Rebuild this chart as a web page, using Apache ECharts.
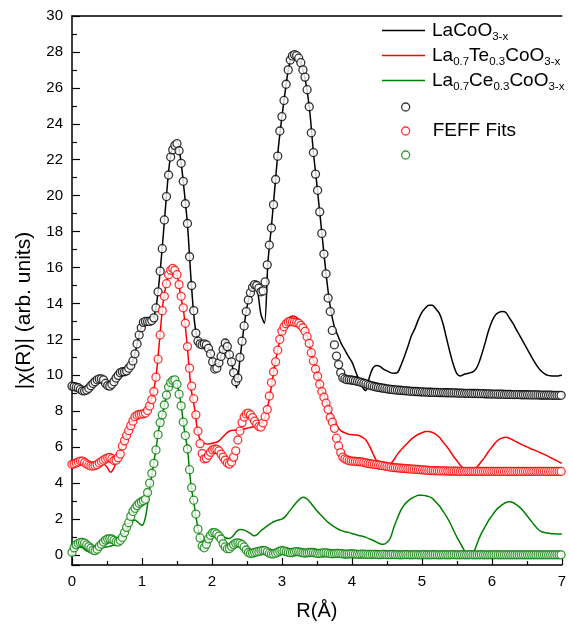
<!DOCTYPE html>
<html>
<head>
<meta charset="utf-8">
<script src="https://cdn.jsdelivr.net/npm/echarts@6/dist/echarts.min.js"></script>
<style>html,body{margin:0;padding:0;background:#fff}#c{width:569px;height:626px}</style>
</head>
<body>
<div id="c"></div>
<script>
// ---- series names / labels ----
const seriesNames = ['LaCoO3-x', 'La0.7Te0.3CoO3-x', 'La0.7Ce0.3CoO3-x'];
const fitNames = ['fitLaCoO', 'FEFF Fits', 'fitLaCeCoO'];
const xTicks = [0, 1, 2, 3, 4, 5, 6, 7];
const yTicks = [0, 2, 4, 6, 8, 10, 12, 14, 16, 18, 20, 22, 24, 26, 28, 30];

// ---- R grids ----
const FIT_STEP = 0.03;   // R step of the FEFF fit points (Å)
const LINE_STEP = 0.05;  // R step of the measured curves (Å)

// ---- FEFF fit values (circles), R = 0, 0.03, 0.06, ... ----
const blackFit = [
 9.40,9.37,9.34,9.31,9.22,9.14,9.14,9.19,9.28,9.42,
 9.55,9.65,9.75,9.80,9.80,9.75,9.55,9.43,9.40,9.50,
 9.65,9.85,10.00,10.15,10.20,10.20,10.25,10.40,10.55,10.80,
 11.20,11.75,12.25,12.65,12.95,13.00,13.00,13.00,13.05,13.20,
 13.75,14.65,15.80,17.05,18.65,19.95,21.15,22.15,22.55,22.80,
 22.90,22.50,21.80,20.80,19.55,18.45,16.60,15.00,13.60,12.35,
 11.90,11.75,11.70,11.75,11.70,11.50,11.20,10.75,10.35,10.40,
 10.70,11.05,11.45,11.80,11.60,11.15,10.75,10.15,9.65,9.85,
 11.00,11.90,12.75,13.55,14.20,14.60,14.90,15.05,15.00,14.85,
 14.65,14.70,15.20,16.15,17.25,18.20,19.50,20.90,22.20,23.60,
 24.40,25.30,26.20,27.00,27.55,27.78,27.85,27.80,27.65,27.40,
 27.00,26.60,25.90,24.95,23.50,22.40,21.20,20.30,19.10,17.90,
 16.75,15.65,14.30,13.55,12.50,11.70,11.07,10.60,10.15,9.87,
 9.80,9.76,9.75,9.74,9.72,9.70,9.67,9.64,9.60,9.56,
 9.52,9.48,9.44,9.41,9.38,9.35,9.33,9.31,9.29,9.27,
 9.25,9.23,9.22,9.20,9.19,9.18,9.17,9.16,9.15,9.14,
 9.13,9.12,9.11,9.10,9.10,9.09,9.08,9.08,9.07,9.07,
 9.06,9.06,9.05,9.05,9.05,9.04,9.04,9.04,9.03,9.03,
 9.03,9.02,9.02,9.02,9.01,9.01,9.01,9.00,9.00,9.00,
 9.00,8.99,8.99,8.99,8.98,8.98,8.98,8.97,8.97,8.97,
 8.96,8.96,8.96,8.95,8.95,8.95,8.94,8.94,8.94,8.94,
 8.93,8.93,8.93,8.93,8.92,8.92,8.92,8.92,8.91,8.91,
 8.91,8.91,8.91,8.90,8.90,8.90,8.90,8.90,8.90,8.89,
 8.89,8.89,8.89,8.89
];
const redFit = [
 5.05,5.08,5.12,5.18,5.23,5.22,5.15,5.07,5.00,4.96,
 4.95,4.98,5.03,5.12,5.20,5.28,5.35,5.40,5.43,5.36,
 5.26,5.28,5.42,5.62,6.07,6.36,6.65,6.92,7.20,7.45,
 7.70,7.78,7.82,7.84,7.86,7.90,8.05,8.30,8.65,9.10,
 9.90,10.90,12.25,13.60,14.40,15.10,15.60,15.85,15.95,15.85,
 15.60,15.05,14.40,13.76,12.90,11.60,10.40,9.40,8.70,7.80,
 6.90,6.20,5.65,5.35,5.38,5.55,5.72,5.85,5.90,5.88,
 5.80,5.62,5.45,5.28,5.12,5.06,5.18,5.45,5.80,6.40,
 6.90,7.37,7.68,7.85,7.90,7.80,7.65,7.45,7.28,7.15,
 7.12,7.35,7.70,8.10,8.85,9.60,10.20,10.75,11.40,12.00,
 12.46,12.70,12.87,12.97,13.00,12.98,12.96,12.93,12.90,12.78,
 12.65,12.45,12.15,11.78,11.26,10.80,10.35,9.95,9.50,9.10,
 8.78,8.45,8.10,7.65,7.40,7.05,6.50,6.07,5.70,5.45,
 5.35,5.30,5.25,5.23,5.22,5.21,5.20,5.19,5.18,5.16,
 5.13,5.10,5.08,5.06,5.05,5.03,5.01,4.99,4.97,4.95,
 4.93,4.91,4.89,4.87,4.86,4.85,4.84,4.83,4.82,4.81,
 4.80,4.79,4.78,4.78,4.77,4.76,4.75,4.74,4.73,4.72,
 4.71,4.70,4.70,4.69,4.69,4.68,4.68,4.68,4.68,4.67,
 4.67,4.67,4.67,4.67,4.67,4.66,4.66,4.66,4.66,4.66,
 4.66,4.66,4.66,4.66,4.65,4.65,4.65,4.65,4.65,4.65,
 4.65,4.65,4.65,4.65,4.65,4.65,4.65,4.65,4.65,4.65,
 4.65,4.65,4.65,4.65,4.65,4.65,4.65,4.65,4.65,4.65,
 4.65,4.65,4.65,4.65,4.65,4.65,4.65,4.65,4.65,4.65,
 4.65,4.65,4.65,4.65
];
const greenFit = [
 0.15,0.40,0.58,0.65,0.70,0.70,0.66,0.56,0.47,0.38,
 0.28,0.24,0.32,0.48,0.60,0.72,0.83,0.89,0.90,0.89,
 0.82,0.74,0.72,0.82,0.98,1.25,1.54,1.80,2.15,2.42,
 2.60,2.75,2.88,2.95,3.02,3.10,3.48,4.00,4.55,5.10,
 5.85,6.70,7.37,7.80,8.35,8.90,9.35,9.60,9.72,9.75,
 9.50,8.95,8.30,7.40,6.65,5.90,4.75,3.75,3.05,2.28,
 1.44,0.95,0.50,0.40,0.60,0.90,1.10,1.24,1.25,1.18,
 1.05,0.89,0.62,0.45,0.35,0.36,0.48,0.58,0.66,0.68,
 0.65,0.58,0.45,0.28,0.14,0.08,0.10,0.14,0.17,0.20,
 0.23,0.25,0.24,0.18,0.10,0.06,0.06,0.10,0.16,0.21,
 0.24,0.23,0.19,0.15,0.13,0.14,0.17,0.19,0.18,0.15,
 0.12,0.11,0.12,0.14,0.15,0.14,0.11,0.09,0.09,0.10,
 0.12,0.12,0.10,0.08,0.07,0.08,0.09,0.09,0.08,0.06,
 0.05,0.05,0.06,0.07,0.06,0.05,0.04,0.04,0.05,0.05,
 0.04,0.03,0.03,0.04,0.04,0.03,0.02,0.02,0.03,0.03,
 0.02,0.02,0.02,0.03,0.02,0.02,0.01,0.01,0.02,0.02,
 0.02,0.01,0.01,0.02,0.02,0.01,0.01,0.02,0.02,0.01,
 0.01,0.01,0.02,0.02,0.01,0.01,0.01,0.02,0.01,0.01,
 0.01,0.02,0.02,0.01,0.01,0.01,0.02,0.01,0.01,0.01,
 0.02,0.01,0.01,0.01,0.01,0.02,0.01,0.01,0.01,0.01,
 0.01,0.01,0.02,0.01,0.01,0.01,0.01,0.01,0.01,0.01,
 0.01,0.01,0.01,0.01,0.01,0.01,0.01,0.01,0.01,0.01,
 0.01,0.01,0.01,0.01,0.01,0.01,0.01,0.01,0.01,0.01,
 0.01,0.01,0.01,0.01
];

// ---- measured curves (lines), R = 0, 0.05, 0.10, ... 7.00 ----
const blackLine = [
 9.45,9.38,9.30,9.15,9.18,9.35,9.55,9.75,9.85,9.80,
 9.55,9.40,9.60,9.95,10.15,10.20,10.35,10.60,11.20,12.10,
 12.80,13.00,13.00,13.10,13.75,15.40,17.60,20.00,22.00,22.80,
 22.95,22.10,20.40,18.40,15.40,13.00,11.90,11.70,11.75,11.50,
 10.90,10.25,10.70,11.35,12.00,11.20,10.35,9.30,10.90,12.46,
 13.80,14.60,15.05,14.70,13.40,12.90,16.30,18.30,20.50,22.70,
 24.40,25.90,27.20,27.85,28.00,27.60,27.00,26.10,24.60,22.40,
 20.60,18.70,16.80,15.00,13.60,12.70,12.20,11.75,11.40,11.05,
 10.75,10.25,9.75,9.35,9.15,9.90,10.40,10.55,10.50,10.35,
 10.25,10.15,10.12,10.15,10.55,11.05,11.60,12.20,12.60,13.10,
 13.50,13.75,13.90,13.90,13.70,13.45,12.90,12.10,11.30,10.60,
 10.10,9.96,10.05,10.10,10.15,10.25,10.55,11.10,11.75,12.45,
 13.00,13.35,13.50,13.55,13.50,13.20,12.90,12.55,12.20,11.85,
 11.50,11.15,10.80,10.50,10.25,10.10,10.00,9.97,9.96,9.97,
 10.00
];
const redLine = [
 4.95,5.00,5.05,5.05,5.00,4.95,4.95,5.00,5.05,5.05,
 4.90,4.60,4.85,5.35,5.90,6.45,7.00,7.40,7.70,7.80,
 7.85,7.90,8.25,8.90,9.90,11.90,14.00,15.15,15.80,16.00,
 15.65,14.50,13.40,11.50,9.30,8.20,6.80,6.30,6.20,6.18,
 6.22,6.26,6.35,6.55,6.75,6.90,6.95,6.95,6.95,7.00,
 7.05,7.10,7.15,7.20,7.30,7.60,8.30,9.40,10.60,11.60,
 12.40,12.90,13.20,13.30,13.25,13.05,12.75,12.35,11.60,10.85,
 10.15,9.45,8.90,8.45,7.95,7.50,7.10,6.90,6.80,6.72,
 6.70,6.68,6.65,6.55,6.40,6.07,5.65,5.25,4.95,4.80,
 4.85,5.05,5.30,5.60,5.85,6.05,6.25,6.45,6.60,6.72,
 6.80,6.87,6.88,6.82,6.72,6.55,6.30,6.07,5.80,5.50,
 5.25,5.00,4.82,4.75,4.75,4.78,4.95,5.20,5.45,5.75,
 6.00,6.25,6.42,6.52,6.55,6.50,6.40,6.30,6.20,6.10,
 6.02,5.93,5.85,5.77,5.68,5.60,5.50,5.40,5.30,5.20,
 5.10
];
const greenLine = [
 0.05,0.30,0.45,0.40,0.25,0.15,0.15,0.25,0.40,0.45,
 0.45,0.50,0.55,0.70,0.90,1.20,1.55,1.85,1.95,1.80,
 1.65,2.10,3.40,4.70,5.90,7.20,7.95,8.85,9.55,9.75,
 9.55,8.60,7.10,5.90,3.90,2.70,1.50,0.80,0.80,1.10,
 1.30,1.35,1.25,1.07,0.95,0.92,1.05,1.30,1.42,1.40,
 1.32,1.20,1.07,1.15,1.35,1.50,1.65,1.78,1.88,1.95,
 2.00,2.15,2.40,2.65,2.90,3.10,3.22,3.15,2.95,2.70,
 2.46,2.25,2.05,1.85,1.70,1.56,1.45,1.36,1.30,1.26,
 1.20,1.14,1.09,1.04,0.98,0.90,0.82,0.72,0.63,0.60,
 0.70,0.95,1.55,2.05,2.50,2.80,3.00,3.15,3.25,3.32,
 3.33,3.30,3.25,3.15,2.95,2.74,2.45,2.15,1.81,1.40,
 1.00,0.65,0.30,0.00,-0.02,0.25,0.75,1.20,1.55,1.90,
 2.18,2.45,2.65,2.80,2.92,2.96,2.92,2.80,2.65,2.45,
 2.20,1.95,1.70,1.48,1.32,1.25,1.22,1.19,1.18,1.17,
 1.17
];

const colors = ['#000000', '#ff0000', '#008000'];
const FONT = '"Liberation Sans", Arial, Helvetica, sans-serif';

function pairs(step, vals) { return vals.map((v, i) => [Math.round(i * step * 1000) / 1000, v]); }

const legendLabel = {
  'LaCoO3-x': '{n|LaCoO}{s|3-x}',
  'La0.7Te0.3CoO3-x': '{n|La}{s|0.7}{n|Te}{s|0.3}{n|CoO}{s|3-x}',
  'La0.7Ce0.3CoO3-x': '{n|La}{s|0.7}{n|Ce}{s|0.3}{n|CoO}{s|3-x}'
};

const lineVals = [blackLine, redLine, greenLine];
const fitVals = [blackFit, redFit, greenFit];

const series = [];
seriesNames.forEach((nm, k) => {
  series.push({
    name: nm, type: 'line', data: pairs(LINE_STEP, lineVals[k]),
    symbol: 'none', smooth: 0.3, z: 2,
    lineStyle: { color: colors[k], width: 1.5 }, itemStyle: { color: colors[k] }
  });
});
fitNames.forEach((nm, k) => {
  series.push({
    name: nm, type: 'scatter', data: pairs(FIT_STEP, fitVals[k]),
    symbol: 'circle', symbolSize: 8, z: 3,
    itemStyle: { color: '#ffffff', borderColor: colors[k], borderWidth: 1.3 }
  });
});

const chart = echarts.init(document.getElementById('c'), null, { renderer: 'canvas' });
chart.setOption({
  animation: false,
  backgroundColor: '#ffffff',
  grid: { left: 72, right: 1, top: 16, bottom: 60 },
  legend: [{
    data: seriesNames.map((n, k) => ({ name: n, icon: 'rect', itemStyle: { color: colors[k], borderWidth: 0 } })),
    orient: 'vertical', left: 382, top: 21, padding: 0, itemWidth: 43, itemHeight: 1.5, itemGap: 3,
    selectedMode: false,
    formatter: n => legendLabel[n],
    textStyle: {
      color: '#000', fontFamily: FONT, padding: [0, 0, 0, 2],
      rich: {
        n: { fontSize: 19, lineHeight: 25, fontFamily: FONT, color: '#000' },
        s: { fontSize: 11.5, lineHeight: 11, verticalAlign: 'bottom', fontFamily: FONT, color: '#000' }
      }
    }
  }, {
    data: fitNames.map((n, k) => ({ name: n, icon: 'circle', itemStyle: { color: '#ffffff', borderColor: colors[k], borderWidth: 1.3 } })),
    orient: 'vertical', left: 401, top: 95, padding: 0, itemWidth: 8, itemHeight: 8, itemGap: 0,
    selectedMode: false,
    formatter: n => (n === 'FEFF Fits' ? 'FEFF Fits' : ' '),
    textStyle: { color: '#000', fontFamily: FONT, fontSize: 19, lineHeight: 24, padding: [0, 0, 0, 18] }
  }],
  xAxis: [{
    type: 'value', min: xTicks[0], max: xTicks[xTicks.length - 1], interval: 1,
    name: 'R(Å)', nameLocation: 'middle', nameGap: 36,
    nameTextStyle: { fontSize: 20, color: '#000', fontFamily: FONT },
    axisLine: { onZero: false, lineStyle: { color: '#000', width: 1.5 } },
    axisTick: { inside: true, length: 7, lineStyle: { color: '#000', width: 1.2 } },
    minorTick: { show: true, splitNumber: 2, length: 4, lineStyle: { color: '#000', width: 1.2 } },
    axisLabel: { color: '#000', fontSize: 15, margin: 9, fontFamily: FONT },
    splitLine: { show: false }
  }, {
    type: 'value', position: 'top', min: 0, max: 7,
    axisLine: { show: true, onZero: false, lineStyle: { color: '#000', width: 1.5 } },
    axisTick: { show: false }, axisLabel: { show: false }, splitLine: { show: false }
  }],
  yAxis: {
    type: 'value', min: -0.556, max: yTicks[yTicks.length - 1],
    splitNumber: 15, minInterval: 2, maxInterval: 2,
    name: '|χ(R)| (arb. units)', nameLocation: 'middle', nameGap: 37, nameRotate: 90,
    nameTextStyle: { fontSize: 21, color: '#000', fontFamily: FONT, padding: [0, 40, 0, 0] },
    axisLine: { show: true, onZero: false, lineStyle: { color: '#000', width: 1.5 } },
    axisTick: { inside: true, length: 8, lineStyle: { color: '#000', width: 1.2 } },
    minorTick: { show: true, splitNumber: 2, length: 5, lineStyle: { color: '#000', width: 1.2 } },
    axisLabel: {
      color: '#000', fontSize: 15, margin: 9, fontFamily: FONT,
      formatter: v => (yTicks.indexOf(Math.round(v)) >= 0 && Math.abs(v - Math.round(v)) < 1e-6) ? String(Math.round(v)) : ''
    },
    splitLine: { show: false }
  },
  series: series
});
</script>
</body>
</html>
